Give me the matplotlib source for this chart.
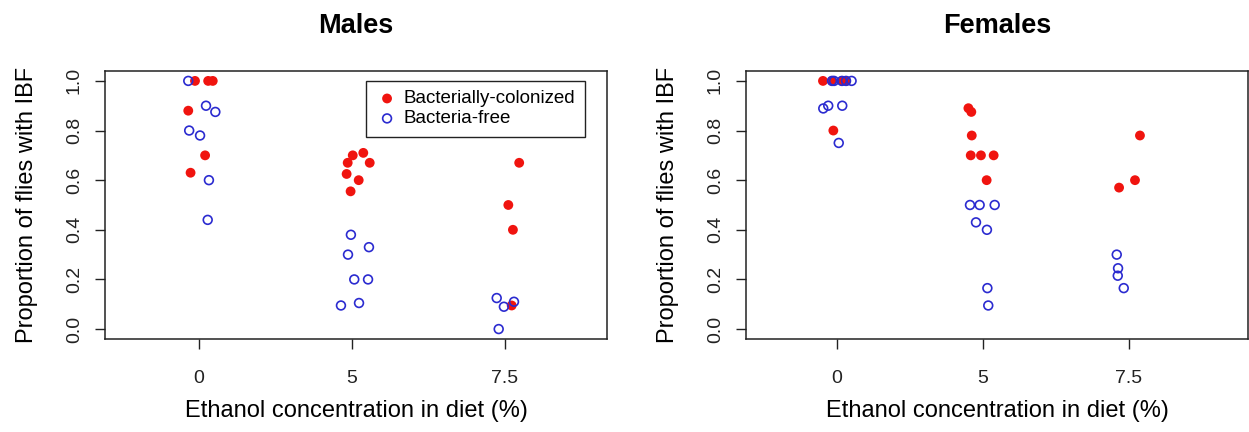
"""
Proportion of flies with IBF vs ethanol concentration, males and females
"""
import numpy as np
import matplotlib.pyplot as plt

plt.rcParams['font.family'] = ['Liberation Sans', 'DejaVu Sans']

# categories on the x axis
dose_labels = ['0', '5', '7.5']
dose_pos = [1, 2, 3]

# ---- males ----
# group index, x jitter, proportion
m_col_grp = [0, 0, 0, 0, 0, 0, 1, 1, 1, 1, 1, 1, 1, 2, 2, 2, 2]
m_col_jit = [-0.026, 0.06, 0.09, -0.07, 0.04, -0.055,
             0.074, 0.005, -0.028, 0.116, -0.035, 0.044, -0.009,
             0.093, 0.022, 0.052, 0.044]
m_col_val = [1.0, 1.0, 1.0, 0.88, 0.70, 0.63,
             0.71, 0.70, 0.67, 0.67, 0.625, 0.60, 0.555,
             0.67, 0.50, 0.40, 0.095]

m_free_grp = [0, 0, 0, 0, 0, 0, 0, 1, 1, 1, 1, 1, 1, 1, 2, 2, 2, 2]
m_free_jit = [-0.07, 0.046, 0.107, -0.064, 0.007, 0.065, 0.057,
              -0.007, 0.111, -0.026, 0.015, 0.105, -0.072, 0.046,
              -0.054, -0.007, 0.059, -0.041]
m_free_val = [1.0, 0.90, 0.875, 0.80, 0.78, 0.60, 0.44,
              0.38, 0.33, 0.30, 0.20, 0.20, 0.095, 0.105,
              0.125, 0.09, 0.11, 0.0]

# ---- females ----
f_col_grp = [0, 0, 0, 0, 0, 1, 1, 1, 1, 1, 1, 1, 2, 2, 2]
f_col_jit = [-0.096, -0.034, 0.034, 0.062, -0.025,
             -0.10, -0.08, -0.077, -0.084, -0.014, 0.073, 0.025,
             0.075, 0.041, -0.068]
f_col_val = [1.0, 1.0, 1.0, 1.0, 0.80,
             0.89, 0.875, 0.78, 0.70, 0.70, 0.70, 0.60,
             0.78, 0.60, 0.57]

f_free_grp = [0, 0, 0, 0, 0, 0, 0, 0, 0, 1, 1, 1, 1, 1, 1, 1, 2, 2, 2, 2]
f_free_jit = [-0.034, 0.034, 0.062, 0.10, -0.094, -0.06, 0.036, 0.012, -0.02,
              -0.089, -0.023, 0.08, -0.048, 0.027, 0.03, 0.036,
              -0.084, -0.075, -0.077, -0.036]
f_free_val = [1.0, 1.0, 1.0, 1.0, 0.889, 0.90, 0.90, 0.75, 1.0,
              0.50, 0.50, 0.50, 0.43, 0.40, 0.165, 0.095,
              0.30, 0.245, 0.215, 0.165]

panels = [
    ('Males', m_col_grp, m_col_jit, m_col_val, m_free_grp, m_free_jit, m_free_val,
     [0.0841, 0.2153, 0.4019, 0.6204], (0.386, 3.667), True),
    ('Females', f_col_grp, f_col_jit, f_col_val, f_free_grp, f_free_jit, f_free_val,
     [0.5973, 0.2153, 0.4019, 0.6204], (0.377, 3.815), False),
]

red = '#f0140f'
blue = '#2b2bd0'

fig = plt.figure(figsize=(12.49, 4.32), dpi=100)

for (title, cg, cj, cv, fg, fj, fv, rect, xl, show_leg) in panels:
    ax = fig.add_axes(rect)
    cx = np.array(dose_pos)[cg] + np.array(cj)
    fx = np.array(dose_pos)[fg] + np.array(fj)
    ax.scatter(cx, cv, s=50, color=red, edgecolors='none', zorder=3,
               label='Bacterially-colonized')
    ax.scatter(fx, fv, s=40, facecolors='none', edgecolors=blue,
               linewidths=1.2, zorder=4, label='Bacteria-free')

    ax.set_xlim(*xl)
    ax.set_ylim(-0.04, 1.04)
    ax.set_xticks(dose_pos)
    ax.set_xticklabels(dose_labels, fontsize=14)
    ax.set_yticks([0, 0.2, 0.4, 0.6, 0.8, 1.0])
    ax.set_yticklabels(['0.0', '0.2', '0.4', '0.6', '0.8', '1.0'],
                       fontsize=14, rotation=90, va='center')
    ax.tick_params(length=7, width=1, colors='#222222')
    ax.tick_params(axis='x', pad=15)
    ax.tick_params(axis='y', pad=9)
    for sp in ax.spines.values():
        sp.set_linewidth(1.1)
        sp.set_color('#222222')

    ax.set_xlabel('Ethanol concentration in diet (%)', fontsize=17, labelpad=10)
    ax.set_ylabel('Proportion of flies with IBF', fontsize=17, labelpad=20)
    ax.set_title(title, fontsize=19.5, fontweight='bold', pad=27)

    if show_leg:
        leg = ax.legend(loc='upper right', bbox_to_anchor=(0.956, 0.963),
                        borderaxespad=0, fancybox=False, fontsize=13.5,
                        handletextpad=0.3, borderpad=0.5, labelspacing=0.15,
                        handlelength=1.2, framealpha=1)
        leg.get_frame().set_edgecolor('#222222')
        leg.get_frame().set_linewidth(1.0)

plt.savefig('out.png', dpi=100)
